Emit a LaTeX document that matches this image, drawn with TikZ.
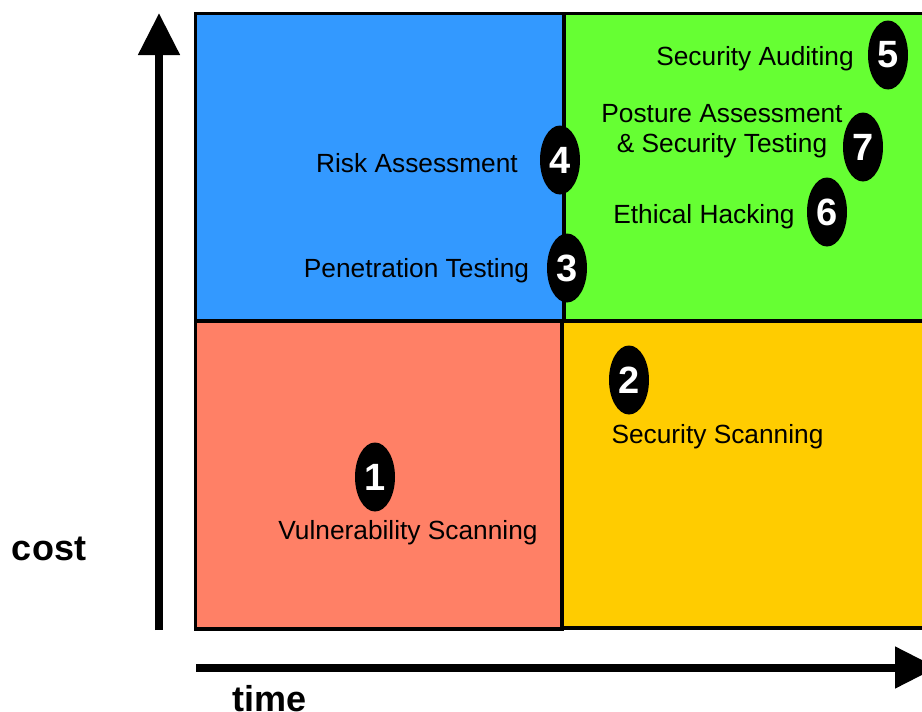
\documentclass[tikz,border=0pt]{standalone}
\usepackage{fontspec}
\setmainfont{Liberation Sans}
\usetikzlibrary{arrows.meta,shapes.geometric}
\definecolor{qblue}{HTML}{3399FF}
\definecolor{qgreen}{HTML}{66FF33}
\definecolor{qred}{HTML}{FF8066}
\definecolor{qyellow}{HTML}{FFCC00}
\begin{document}
\begin{tikzpicture}[x=1pt,y=-1pt,
  quad/.style={draw=black,line width=3.5pt},
  lbl/.style={font=\fontsize{26.3}{30}\selectfont, text height=19pt, text depth=5.5pt, inner sep=0pt},
  badge/.style={ellipse, fill=black, minimum width=40pt, minimum height=69pt, inner sep=0pt, text=white, font=\fontsize{38}{40}\selectfont\bfseries},
  axis/.style={line width=8pt, -{Triangle[length=42pt,width=40pt]}},
  axislbl/.style={font=\fontsize{36}{40}\selectfont\bfseries, inner sep=0pt, text height=26pt, text depth=0pt}]
\clip (0,0) rectangle (922,712);
\fill[white] (0,0) rectangle (922,712);
% quadrants
\filldraw[quad, fill=qblue] (195.5,13.5) rectangle (564,321);
\filldraw[quad, fill=qgreen] (564,13.5) rectangle (945,321);
\filldraw[quad, fill=qred] (195.5,321) rectangle (562,629);
\filldraw[quad, fill=qyellow] (562,321) rectangle (945,628);
% axes
\coordinate (ybot) at (159,630);
\coordinate (ytop) at (159,13);
\coordinate (xleft) at (196,667.5);
\coordinate (xright) at (937,667.5);
\draw[axis] (ybot) -- (ytop);
\draw[axis] (xleft) -- (xright);
\node[axislbl] (cost) at (49,547) {cost};
\node[axislbl] (time) at (270,698) {time};
% labels
\node[lbl] (l5) at (755,59) {Security Auditing};
\node[font=\fontsize{26.3}{30}\selectfont, inner sep=0pt, align=center] (l7) at (722,131.5) {Posture Assessment\\\& Security Testing};
\node[lbl] (l6) at (704,217) {Ethical Hacking};
\node[lbl] (l4) at (417,166) {Risk Assessment};
\node[lbl] (l3) at (416.5,271) {Penetration Testing};
\node[lbl] (l2) at (717.5,437) {Security Scanning};
\node[lbl] (l1) at (408,533) {Vulnerability Scanning};
% badges
\node[badge] (b1) at (375,477) {1};
\node[badge] (b2) at (629,380) {2};
\node[badge] (b3) at (567,268) {3};
\node[badge] (b4) at (560,160) {4};
\node[badge] (b5) at (888,55) {5};
\node[badge] (b6) at (827,212) {6};
\node[badge] (b7) at (863,147) {7};
\end{tikzpicture}
\end{document}
